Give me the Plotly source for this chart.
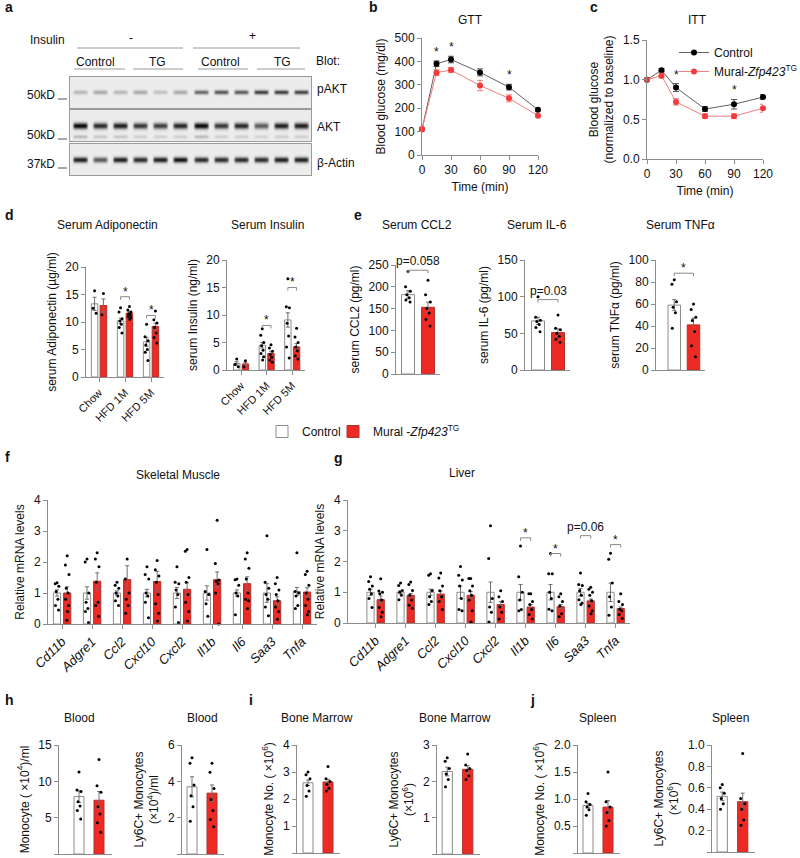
import numpy as np
import plotly.graph_objects as go

W, H = 800, 858
FONT = "Liberation Sans, Arial, sans-serif"
RED = "#ee2a24"
AXC = "#8c8c8c"
ERRC = "#707070"

# ---------------- DATA ----------------
# a: western blot band intensities per lane (0-1)
blot_lanes = list(range(12))
pakt_int = [0.22, 0.28, 0.22, 0.28, 0.18, 0.28, 0.55, 0.62, 0.60, 0.72, 0.72, 0.70]
akt_int = [0.95, 0.80, 0.85, 0.75, 0.72, 0.82, 0.95, 0.75, 0.82, 0.60, 0.85, 0.85]
akt_low_int = [0.20, 0.15, 0.15, 0.12, 0.12, 0.12, 0.20, 0.12, 0.12, 0.10, 0.12, 0.12]
actin_int = [0.85, 0.60, 0.85, 0.80, 0.85, 0.90, 0.80, 0.80, 0.80, 0.80, 0.85, 0.85]

# b: GTT
time_min = [0, 15, 30, 60, 90, 120]
gtt_ctrl = [110, 390, 408, 353, 290, 193]
gtt_ctrl_err = [5, 12, 14, 15, 12, 8]
gtt_tg = [110, 352, 363, 297, 242, 168]
gtt_tg_err = [5, 12, 10, 22, 15, 6]
gtt_sig = [15, 30, 90]

# c: ITT
itt_ctrl = [1.0, 1.12, 0.90, 0.63, 0.69, 0.78]
itt_ctrl_err = [0.01, 0.02, 0.05, 0.03, 0.06, 0.03]
itt_tg = [1.0, 1.05, 0.72, 0.54, 0.54, 0.64]
itt_tg_err = [0.01, 0.03, 0.04, 0.03, 0.03, 0.05]
itt_sig = [30, 90]

# d: serum adiponectin / insulin
diet_groups = ["Chow", "HFD 1M", "HFD 5M"]
adipo_ctrl = [13.3, 10.2, 6.4]
adipo_ctrl_sem = [1.2, 0.5, 0.8]
adipo_ctrl_pts = [[15.7, 12.5, 11.6], [12.6, 11.8, 10.6, 10.2, 9.6, 9.0, 8.0],
                  [9.6, 7.3, 6.6, 5.8, 5.0, 4.5, 3.0]]
adipo_tg = [13.0, 11.6, 9.2]
adipo_tg_sem = [1.2, 0.35, 0.6]
adipo_tg_pts = [[15.2, 11.3], [12.8, 12.2, 11.8, 11.5, 11.3, 11.0, 10.8, 10.5],
                [12.0, 10.4, 9.8, 9.0, 8.0, 7.2, 6.2]]
adipo_sig = [(1, 14.6, "*"), (2, 11.2, "*")]

ins_ctrl = [1.2, 4.5, 9.1]
ins_ctrl_sem = [0.3, 0.5, 1.3]
ins_ctrl_pts = [[2.0, 1.0, 0.6], [7.5, 6.3, 5.0, 4.4, 3.6, 3.0, 2.4, 1.8],
                [16.6, 11.5, 11.3, 8.5, 6.2, 4.2, 2.2]]
ins_tg = [1.1, 3.0, 4.2]
ins_tg_sem = [0.3, 0.4, 0.6]
ins_tg_pts = [[1.7, 0.6], [4.6, 4.0, 3.4, 2.8, 2.3, 1.8, 1.4],
              [7.6, 6.0, 5.0, 4.2, 3.5, 2.6, 2.0]]
ins_sig = [(1, 8.1, "*"), (2, 15.0, "*")]

# e: serum cytokines
ccl2_ctrl, ccl2_ctrl_sem = [182], [9]
ccl2_ctrl_pts = [[235, 200, 190, 182, 175, 170, 165]]
ccl2_tg, ccl2_tg_sem = [153], [12]
ccl2_tg_pts = [[215, 182, 165, 150, 140, 125, 110]]
ccl2_sig = [(0, 238, "p=0.058")]

il6_ctrl, il6_ctrl_sem = [67], [5]
il6_ctrl_pts = [[100, 72, 68, 66, 62, 58, 52]]
il6_tg, il6_tg_sem = [51], [5]
il6_tg_pts = [[75, 57, 55, 50, 46, 42, 38]]
il6_sig = [(0, 96, "p=0.03")]

tnf_ctrl, tnf_ctrl_sem = [59], [5]
tnf_ctrl_pts = [[82, 78, 62, 57, 52, 38]]
tnf_tg, tnf_tg_sem = [41], [6]
tnf_tg_pts = [[60, 55, 48, 45, 35, 22, 12]]
tnf_sig = [(0, 88, "*")]

# f / g: relative mRNA
genes = ["Cd11b", "Adgre1", "Ccl2", "Cxcl10", "Cxcl2", "Il1b", "Il6", "Saa3", "Tnfa"]
sm_ctrl = [1.0, 1.0, 1.0, 1.0, 1.0, 1.0, 1.0, 1.0, 1.05]
sm_ctrl_sem = [0.1, 0.2, 0.07, 0.12, 0.18, 0.23, 0.1, 0.3, 0.13]
sm_ctrl_pts = [[1.33, 1.3, 1.22, 1.05, 0.8, 0.6, 0.45],
               [2.1, 2.0, 1.0, 0.7, 0.5, 0.4, 0.05],
               [1.35, 1.25, 1.15, 1.0, 0.9, 0.75, 0.6],
               [1.85, 1.6, 1.45, 1.0, 0.9, 0.7, 0.2],
               [1.85, 1.35, 1.3, 1.1, 0.95, 0.55, 0.05],
               [2.4, 1.05, 0.95, 0.65, 0.25],
               [1.45, 1.43, 1.25, 1.0, 0.9, 0.3],
               [2.85, 1.35, 1.15, 0.95, 0.8, 0.55, 0.27],
               [2.3, 1.05, 1.0, 0.9, 0.6, 0.5]]
sm_tg = [1.0, 1.38, 1.43, 1.37, 1.12, 1.43, 1.3, 0.75, 1.03]
sm_tg_sem = [0.2, 0.27, 0.45, 0.33, 0.21, 0.25, 0.22, 0.13, 0.14]
sm_tg_pts = [[2.2, 1.9, 1.6, 1.15, 1.0, 0.8, 0.6, 0.4, 0.12],
             [2.3, 2.1, 1.85, 1.35, 0.7, 0.6, 0.25],
             [2.1, 1.45, 1.0, 0.8, 0.6, 0.35],
             [2.05, 1.75, 1.55, 1.35, 0.95, 0.65, 0.35, 0.1],
             [2.4, 2.35, 1.5, 1.35, 0.95, 0.7, 0.4, 0.1],
             [3.35, 1.95, 1.42, 1.38, 1.3, 1.0, 0.0],
             [2.3, 2.1, 1.8, 1.45, 1.0, 0.8, 0.75, 0.5],
             [1.5, 1.3, 1.1, 0.95, 0.75, 0.55, 0.4, 0.15],
             [1.7, 1.6, 1.25, 1.0, 0.8, 0.6, 0.4, 0.3]]

lv_ctrl = [1.0, 1.0, 1.0, 1.0, 1.0, 1.0, 1.0, 1.0, 1.0]
lv_ctrl_sem = [0.1, 0.05, 0.1, 0.2, 0.33, 0.25, 0.25, 0.12, 0.3]
lv_ctrl_pts = [[1.5, 1.35, 1.2, 1.1, 0.95, 0.8, 0.5],
               [1.3, 1.22, 1.06, 1.0, 0.9, 0.76],
               [1.6, 1.55, 1.06, 0.85, 0.7, 0.6],
               [1.84, 1.55, 1.4, 1.2, 0.8, 0.44, 0.4],
               [3.16, 2.1, 0.8, 0.52, 0.35, 0.03],
               [2.5, 1.5, 1.0, 0.75, 0.44, 0.4],
               [2.26, 1.6, 1.6, 1.0, 0.8, 0.45, 0.4],
               [1.63, 1.25, 1.22, 1.05, 0.9, 0.76, 0.65, 0.6],
               [2.27, 2.07, 1.3, 0.85, 0.52, 0.25]]
lv_tg = [0.76, 0.9, 0.94, 0.9, 0.6, 0.52, 0.53, 0.72, 0.47]
lv_tg_sem = [0.12, 0.06, 0.1, 0.12, 0.1, 0.08, 0.07, 0.06, 0.05]
lv_tg_pts = [[1.44, 1.04, 1.0, 0.95, 0.75, 0.5, 0.35, 0.2],
             [1.33, 1.25, 1.06, 0.9, 0.75, 0.58, 0.48],
             [1.63, 1.46, 1.2, 1.05, 0.85, 0.7, 0.44],
             [1.45, 1.45, 1.2, 1.05, 0.9, 0.75, 0.4, 0.03],
             [1.05, 0.85, 0.7, 0.52, 0.35, 0.13],
             [0.95, 0.95, 0.7, 0.6, 0.44, 0.28, 0.13],
             [0.95, 0.85, 0.7, 0.55, 0.3, 0.2],
             [1.16, 1.1, 1.0, 0.9, 0.72, 0.55, 0.4, 0.3],
             [0.95, 0.7, 0.6, 0.45, 0.4, 0.28, 0.15]]
lv_sig = [(5, 2.77, "*"), (6, 2.26, "*"), (7, 2.84, "p=0.06"), (8, 2.55, "*")]

# h / i / j: monocytes
blood_mono_ctrl, blood_mono_ctrl_sem = [7.9], [0.8]
blood_mono_ctrl_pts = [[11.3, 8.8, 8.6, 7.2, 6.6, 6.0, 4.8]]
blood_mono_tg, blood_mono_tg_sem = [7.4], [1.2]
blood_mono_tg_pts = [[13.0, 9.4, 8.5, 6.5, 5.5, 4.3, 3.0]]

blood_ly6c_ctrl, blood_ly6c_ctrl_sem = [3.7], [0.55]
blood_ly6c_ctrl_pts = [[5.3, 5.0, 3.8, 3.2, 2.6, 1.8]]
blood_ly6c_tg, blood_ly6c_tg_sem = [3.35], [0.45]
blood_ly6c_tg_pts = [[5.0, 4.5, 3.6, 3.0, 2.4, 1.9, 1.5]]

bm_mono_ctrl, bm_mono_ctrl_sem = [2.6], [0.1]
bm_mono_ctrl_pts = [[3.0, 2.9, 2.75, 2.5, 2.3, 2.1]]
bm_mono_tg, bm_mono_tg_sem = [2.63], [0.1]
bm_mono_tg_pts = [[3.2, 2.75, 2.65, 2.55, 2.4, 2.3]]

bm_ly6c_ctrl, bm_ly6c_ctrl_sem = [2.27], [0.12]
bm_ly6c_ctrl_pts = [[2.65, 2.55, 2.35, 2.2, 2.05, 1.85]]
bm_ly6c_tg, bm_ly6c_tg_sem = [2.33], [0.1]
bm_ly6c_tg_pts = [[2.75, 2.45, 2.35, 2.3, 2.15, 2.05]]

sp_mono_ctrl, sp_mono_ctrl_sem = [0.88], [0.04]
sp_mono_ctrl_pts = [[1.1, 0.95, 0.9, 0.85, 0.8, 0.7]]
sp_mono_tg, sp_mono_tg_sem = [0.85], [0.12]
sp_mono_tg_pts = [[1.5, 0.95, 0.85, 0.75, 0.6, 0.5]]

sp_ly6c_ctrl, sp_ly6c_ctrl_sem = [0.52], [0.04]
sp_ly6c_ctrl_pts = [[0.63, 0.6, 0.55, 0.5, 0.45, 0.4]]
sp_ly6c_tg, sp_ly6c_tg_sem = [0.47], [0.08]
sp_ly6c_tg_pts = [[0.92, 0.5, 0.45, 0.4, 0.3, 0.25]]

# ---------------- FIGURE ----------------
fig = go.Figure()
layout = {}
annots = []
shapes = []


def ax_ids(n):
    return ("x" if n == 1 else f"x{n}"), ("y" if n == 1 else f"y{n}")


def add_axes(n, box, xr, yr, ydtick=None, ytitle=None, yfmt=None, xtickvals=None,
             xticktext=None, xtickangle=0, xfont=12, xtitle=None, xdtick=None,
             blot=False, xticks=True):
    l, t, r, b = box
    xn = "xaxis" if n == 1 else f"xaxis{n}"
    yn = "yaxis" if n == 1 else f"yaxis{n}"
    xid, yid = ax_ids(n)
    if blot:
        common = dict(showline=True, mirror=True, linecolor="#9a9a9a", linewidth=1,
                      showticklabels=False, ticks="", showgrid=False, zeroline=False,
                      fixedrange=True)
        layout[xn] = dict(domain=[l / W, r / W], range=xr, anchor=yid, **common)
        layout[yn] = dict(domain=[1 - b / H, 1 - t / H], range=yr, anchor=xid, **common)
        return
    xa = dict(domain=[l / W, r / W], range=xr, anchor=yid, showline=True, linecolor=AXC,
              linewidth=1, showgrid=False, zeroline=False,
              ticks="outside" if xticks else "", ticklen=4, tickcolor=AXC,
              tickfont=dict(size=xfont, color="#111"), tickangle=xtickangle)
    if xtickvals is not None:
        xa.update(tickmode="array", tickvals=xtickvals, ticktext=xticktext)
    elif xdtick is not None:
        xa.update(tick0=0, dtick=xdtick)
    else:
        xa.update(showticklabels=False)
    if xtitle:
        xa["title"] = dict(text=xtitle, font=dict(size=12), standoff=6)
    ya = dict(domain=[1 - b / H, 1 - t / H], range=yr, anchor=xid, showline=True,
              linecolor=AXC, linewidth=1, showgrid=False, zeroline=False, ticks="outside",
              ticklen=4, tickcolor=AXC, tickfont=dict(size=12, color="#111"),
              tick0=0, dtick=ydtick)
    if yfmt:
        ya["tickformat"] = yfmt
    if ytitle:
        ya["title"] = dict(text=ytitle, font=dict(size=12), standoff=6)
    layout[xn] = xa
    layout[yn] = ya


PAT = [0, -1, 1, -0.5, 0.5, -0.85, 0.85, 0.2, -0.2, 1, -1, 0.6]


def jit(n, w):
    return [PAT[i % len(PAT)] * w for i in range(n)]


def bar_panel(n, gx, cm, cs, cp, tm, ts, tp, off, bw, jw, yr, sig=None, legend=False,
              dpx=3):
    xid, yid = ax_ids(n)
    fig.add_trace(go.Bar(x=[g - off for g in gx], y=cm, width=bw, xaxis=xid, yaxis=yid,
                         marker=dict(color="white", line=dict(color=AXC, width=1)),
                         error_y=dict(type="data", array=cs, color=ERRC, thickness=1, width=2),
                         name="Control", legend="legend", showlegend=legend,
                         hoverinfo="skip"))
    fig.add_trace(go.Bar(x=[g + off for g in gx], y=tm, width=bw, xaxis=xid, yaxis=yid,
                         marker=dict(color=RED, line=dict(color="#b0312c", width=1)),
                         error_y=dict(type="data", array=ts, color=ERRC, thickness=1, width=2),
                         name="Mural -<i>Zfp423</i><sup>TG</sup>", legend="legend3",
                         showlegend=legend, hoverinfo="skip"))
    px, py = [], []
    for g, pts in zip(gx, cp):
        px += [g - off + j for j in jit(len(pts), jw)]
        py += pts
    for g, pts in zip(gx, tp):
        px += [g + off + j for j in jit(len(pts), jw)]
        py += pts
    fig.add_trace(go.Scatter(x=px, y=py, mode="markers", xaxis=xid, yaxis=yid,
                             marker=dict(size=3, color="black"), cliponaxis=False,
                             showlegend=False, hoverinfo="skip"))
    if sig:
        l, t, r, b = BOXES[n]
        hdata = dpx * (yr[1] - yr[0]) / (b - t)
        for gi, yv, txt in sig:
            x0, x1 = gx[gi] - off, gx[gi] + off
            shapes.append(dict(type="path", xref=xid, yref=yid,
                               path=f"M {x0} {yv - hdata} L {x0} {yv} L {x1} {yv} L {x1} {yv - hdata}",
                               line=dict(color="#8a8a8a", width=1)))
            annots.append(dict(x=(x0 + x1) / 2, y=yv, xref=xid, yref=yid, text=txt,
                               showarrow=False, yanchor="bottom",
                               yshift=-4 if txt == "*" else 0,
                               font=dict(size=12, color="#111")))


BOXES = {}

# ---- panel a: blot (heatmaps) ----
blot_specs = [
    (16, (70, 77, 311, 108), [(pakt_int, 0.52, 0.07)]),
    (17, (70, 110, 311, 141), [(akt_int, 0.50, 0.10), (akt_low_int, 0.15, 0.06)]),
    (18, (70, 144, 311, 175), [(actin_int, 0.50, 0.09)]),
]
xs = np.linspace(0, 12, 241)
ys = np.linspace(0, 1, 32)
for n, box, bands in blot_specs:
    add_axes(n, box, [0, 12], [0, 1], blot=True)
    Z = np.full((len(ys), len(xs)), 0.08)
    for ints, y0, sig in bands:
        for k, v in zip(blot_lanes, ints):
            lane = np.exp(-((xs - (k + 0.5)) / 0.36) ** 8)
            prof = np.exp(-((ys - y0) / sig) ** 2)
            Z += v * np.outer(prof, lane)
    xid, yid = ax_ids(n)
    fig.add_trace(go.Heatmap(x=xs, y=ys, z=np.clip(Z, 0, 1), zmin=0, zmax=1,
                             colorscale=[[0, "#ffffff"], [0.5, "#8a8a8a"], [1, "#101010"]],
                             showscale=False, xaxis=xid, yaxis=yid, zsmooth="best",
                             hoverinfo="skip"))

# ---- panel b ----
BOXES[1] = (422, 38, 538, 155)
add_axes(1, BOXES[1], [0, 120], [0, 500], ydtick=100, ytitle="Blood glucose (mg/dl)",
         xdtick=30, xtitle="Time (min)")
fig.add_trace(go.Scatter(x=time_min, y=gtt_ctrl, mode="lines+markers", xaxis="x", yaxis="y",
                         line=dict(color="#606060", width=1), marker=dict(color="black", size=6),
                         error_y=dict(type="data", array=gtt_ctrl_err, color="#555", thickness=1, width=3),
                         showlegend=False, cliponaxis=False))
fig.add_trace(go.Scatter(x=time_min, y=gtt_tg, mode="lines+markers", xaxis="x", yaxis="y",
                         line=dict(color="#f47c7c", width=1), marker=dict(color="#f23a3a", size=6),
                         error_y=dict(type="data", array=gtt_tg_err, color="#f47c7c", thickness=1, width=3),
                         showlegend=False, cliponaxis=False))
for tval in gtt_sig:
    i = time_min.index(tval)
    annots.append(dict(x=tval, y=gtt_ctrl[i] + gtt_ctrl_err[i], xref="x", yref="y", text="*",
                       showarrow=False, yanchor="bottom", yshift=0, font=dict(size=12, color="#111")))

# ---- panel c ----
BOXES[2] = (647, 40, 763, 159)
add_axes(2, BOXES[2], [0, 120], [0, 1.5], ydtick=0.5, yfmt=".1f",
         ytitle="Blood glucose<br>(normalized to baseline)", xdtick=30, xtitle="Time (min)")
fig.add_trace(go.Scatter(x=time_min, y=itt_ctrl, mode="lines+markers", xaxis="x2", yaxis="y2",
                         line=dict(color="#606060", width=1), marker=dict(color="black", size=6),
                         error_y=dict(type="data", array=itt_ctrl_err, color="#555", thickness=1, width=3),
                         name="Control", legend="legend2", cliponaxis=False))
fig.add_trace(go.Scatter(x=time_min, y=itt_tg, mode="lines+markers", xaxis="x2", yaxis="y2",
                         line=dict(color="#f47c7c", width=1), marker=dict(color="#f23a3a", size=6),
                         error_y=dict(type="data", array=itt_tg_err, color="#f47c7c", thickness=1, width=3),
                         name="Mural-<i>Zfp423</i><sup>TG</sup>", legend="legend2", cliponaxis=False))
for tval in itt_sig:
    i = time_min.index(tval)
    annots.append(dict(x=tval, y=itt_ctrl[i] + itt_ctrl_err[i], xref="x2", yref="y2", text="*",
                       showarrow=False, yanchor="bottom", font=dict(size=12, color="#111")))

# ---- panel d ----
BOXES[3] = (86, 267, 164, 377)
add_axes(3, BOXES[3], [-0.5, 2.5], [0, 20], ydtick=5, ytitle="serum Adiponectin (\u00b5g/ml)",
         xtickvals=[0, 1, 2], xticktext=diet_groups, xtickangle=-45, xfont=11)
bar_panel(3, [0, 1, 2], adipo_ctrl, adipo_ctrl_sem, adipo_ctrl_pts, adipo_tg, adipo_tg_sem,
          adipo_tg_pts, 0.17, 0.25, 0.06, [0, 20], sig=adipo_sig)

BOXES[4] = (227, 260, 305, 370)
add_axes(4, BOXES[4], [-0.55, 2.5], [0, 20], ydtick=5, ytitle="serum Insulin (ng/ml)",
         xtickvals=[0, 1, 2], xticktext=diet_groups, xtickangle=-45, xfont=11)
bar_panel(4, [0, 1, 2], ins_ctrl, ins_ctrl_sem, ins_ctrl_pts, ins_tg, ins_tg_sem,
          ins_tg_pts, 0.17, 0.25, 0.06, [0, 20], sig=ins_sig)

# ---- panel e ----
BOXES[5] = (396, 265, 440, 374)
add_axes(5, BOXES[5], [-0.6, 1.6], [0, 250], ydtick=50, ytitle="serum CCL2 (pg/ml)",
         xticks=False)
bar_panel(5, [0.5], ccl2_ctrl, ccl2_ctrl_sem, ccl2_ctrl_pts, ccl2_tg, ccl2_tg_sem, ccl2_tg_pts,
          0.5, 0.65, 0.12, [0, 250], sig=ccl2_sig)

BOXES[6] = (525, 260, 570, 370)
add_axes(6, BOXES[6], [-0.65, 1.6], [0, 150], ydtick=50, ytitle="serum IL-6 (pg/ml)",
         xticks=False)
bar_panel(6, [0.5], il6_ctrl, il6_ctrl_sem, il6_ctrl_pts, il6_tg, il6_tg_sem, il6_tg_pts,
          0.5, 0.65, 0.12, [0, 150], sig=il6_sig)

BOXES[7] = (656, 260, 705, 370)
add_axes(7, BOXES[7], [-0.95, 1.6], [0, 100], ydtick=20, ytitle="serum TNF\u03b1 (pg/ml)",
         xticks=False)
bar_panel(7, [0.5], tnf_ctrl, tnf_ctrl_sem, tnf_ctrl_pts, tnf_tg, tnf_tg_sem, tnf_tg_pts,
          0.5, 0.65, 0.12, [0, 100], sig=tnf_sig, legend=True)

# ---- panel f / g ----
gidx = list(range(len(genes)))
gene_text = [f"<i>{g}</i>" for g in genes]
BOXES[8] = (48, 500, 317, 624)
add_axes(8, BOXES[8], [-0.47, 8.5], [0, 4], ydtick=1, ytitle="Relative mRNA levels",
         xtickvals=gidx, xticktext=gene_text, xtickangle=-45, xfont=13)
bar_panel(8, gidx, sm_ctrl, sm_ctrl_sem, sm_ctrl_pts, sm_tg, sm_tg_sem, sm_tg_pts,
          0.17, 0.24, 0.06, [0, 4])

BOXES[9] = (348, 500, 630, 623)
add_axes(9, BOXES[9], [-0.92, 8.48], [0, 4], ydtick=1, ytitle="Relative mRNA levels",
         xtickvals=gidx, xticktext=gene_text, xtickangle=-45, xfont=13)
bar_panel(9, gidx, lv_ctrl, lv_ctrl_sem, lv_ctrl_pts, lv_tg, lv_tg_sem, lv_tg_pts,
          0.17, 0.24, 0.06, [0, 4], sig=lv_sig)

# ---- panel h / i / j ----
mono_specs = [
    (10, (59, 745, 112, 854), [-1.0, 1.65], [0, 15], 5, None,
     "Monocyte ( \u00d710<sup>4</sup>)/ml",
     blood_mono_ctrl, blood_mono_ctrl_sem, blood_mono_ctrl_pts, blood_mono_tg, blood_mono_tg_sem, blood_mono_tg_pts),
    (11, (182, 745, 224, 854), [-0.5, 1.6], [0, 6], 2, None,
     "Ly6C+ Monocytes<br>(\u00d710<sup>4</sup>)/ml",
     blood_ly6c_ctrl, blood_ly6c_ctrl_sem, blood_ly6c_ctrl_pts, blood_ly6c_tg, blood_ly6c_tg_sem, blood_ly6c_tg_pts),
    (12, (297, 745, 340, 853), [-0.55, 1.6], [0, 4], 1, None,
     "Monocyte No. ( \u00d710<sup>6</sup>)",
     bm_mono_ctrl, bm_mono_ctrl_sem, bm_mono_ctrl_pts, bm_mono_tg, bm_mono_tg_sem, bm_mono_tg_pts),
    (13, (437, 745, 480, 854), [-0.5, 1.6], [0, 3], 1, None,
     "Ly6C+ Monocytes<br>(\u00d710<sup>6</sup>)",
     bm_ly6c_ctrl, bm_ly6c_ctrl_sem, bm_ly6c_ctrl_pts, bm_ly6c_tg, bm_ly6c_tg_sem, bm_ly6c_tg_pts),
    (14, (578, 745, 620, 853), [-0.5, 1.6], [0, 2], 0.5, ".1f",
     "Monocyte No. ( \u00d710<sup>6</sup>)",
     sp_mono_ctrl, sp_mono_ctrl_sem, sp_mono_ctrl_pts, sp_mono_tg, sp_mono_tg_sem, sp_mono_tg_pts),
    (15, (712, 745, 755, 852), [-0.5, 1.6], [0, 1], 0.2, ".1f",
     "Ly6C+ Monocytes<br>(\u00d710<sup>6</sup>)",
     sp_ly6c_ctrl, sp_ly6c_ctrl_sem, sp_ly6c_ctrl_pts, sp_ly6c_tg, sp_ly6c_tg_sem, sp_ly6c_tg_pts),
]
for (n, box, xr, yr, dt, fmt, yt, cm, cs, cp, tm, ts, tp) in mono_specs:
    BOXES[n] = box
    add_axes(n, box, xr, yr, ydtick=dt, yfmt=fmt, ytitle=yt, xticks=False)
    bar_panel(n, [0.5], cm, cs, cp, tm, ts, tp, 0.5, 0.5, 0.1, yr)

# ---------------- TEXT ----------------
def txt(x, y, s, size=12, bold=False, xanchor="center", yanchor="middle", color="#111"):
    annots.append(dict(x=x / W, y=1 - y / H, xref="paper", yref="paper",
                       text=f"<b>{s}</b>" if bold else s, showarrow=False,
                       xanchor=xanchor, yanchor=yanchor, font=dict(size=size, color=color)))


def hline(x0, x1, y, color="#9a9a9a"):
    shapes.append(dict(type="line", xref="paper", yref="paper", x0=x0 / W, x1=x1 / W,
                       y0=1 - y / H, y1=1 - y / H, line=dict(color=color, width=1)))


# panel letters
for s, x, y in [("a", 3, 7), ("b", 367, 7), ("c", 588, 7), ("d", 3, 215), ("e", 352, 215),
                ("f", 3, 457), ("g", 332, 458), ("h", 3, 700), ("i", 247, 700), ("j", 528, 700)]:
    txt(x, y, s, size=14, bold=True, xanchor="left")

# panel titles
for s, x, y in [("GTT", 470, 20), ("ITT", 697, 20), ("Serum Adiponectin", 107, 225),
                ("Serum Insulin", 267, 225), ("Serum CCL2", 417, 225), ("Serum IL-6", 537, 225),
                ("Serum TNF\u03b1", 680, 225), ("Skeletal Muscle", 178, 475), ("Liver", 462, 473),
                ("Blood", 79, 718), ("Blood", 202, 718), ("Bone Marrow", 317, 718),
                ("Bone Marrow", 455, 718), ("Spleen", 597, 718), ("Spleen", 730, 718)]:
    txt(x, y, s)

# blot labels
txt(47, 40, "Insulin")
txt(131, 38, "-")
txt(253, 36, "+")
hline(77, 183, 48)
hline(193, 300, 48)
for s, x, x0, x1 in [("Control", 95, 74, 125), ("TG", 157, 133, 183),
                     ("Control", 220, 198, 248), ("TG", 282, 257, 305)]:
    txt(x, 62, s)
    hline(x0, x1, 69)
txt(314, 61, "Blot:", xanchor="left")
txt(315, 89, "pAKT", xanchor="left")
txt(315, 127, "AKT", xanchor="left")
txt(315, 163, "\u03b2-Actin", xanchor="left")
for s, y in [("50kD", 95), ("50kD", 135), ("37kD", 164)]:
    txt(57, y, s, xanchor="right")
    hline(58, 67, y + 4, color="#555")

fig.update_layout(**layout)
fig.update_layout(
    width=W, height=H, margin=dict(l=0, r=0, t=0, b=0, autoexpand=False),
    paper_bgcolor="white", plot_bgcolor="rgba(0,0,0,0)",
    font=dict(family=FONT, size=12, color="#111"),
    barmode="overlay", annotations=annots, shapes=shapes,
    legend=dict(x=262 / W, y=1 - 417 / H, xanchor="left", yanchor="top",
                font=dict(size=12), bgcolor="rgba(0,0,0,0)"),
    legend3=dict(x=333 / W, y=1 - 417 / H, xanchor="left", yanchor="top",
                 font=dict(size=12), bgcolor="rgba(0,0,0,0)"),
    legend2=dict(x=674 / W, y=1 - 38 / H, xanchor="left", yanchor="top",
                 font=dict(size=12), bgcolor="rgba(0,0,0,0)", tracegroupgap=4),
)

fig.write_html("out.html", config={"displayModeBar": False},
               post_script="document.body.style.margin='0';document.body.style.overflow='hidden';")
